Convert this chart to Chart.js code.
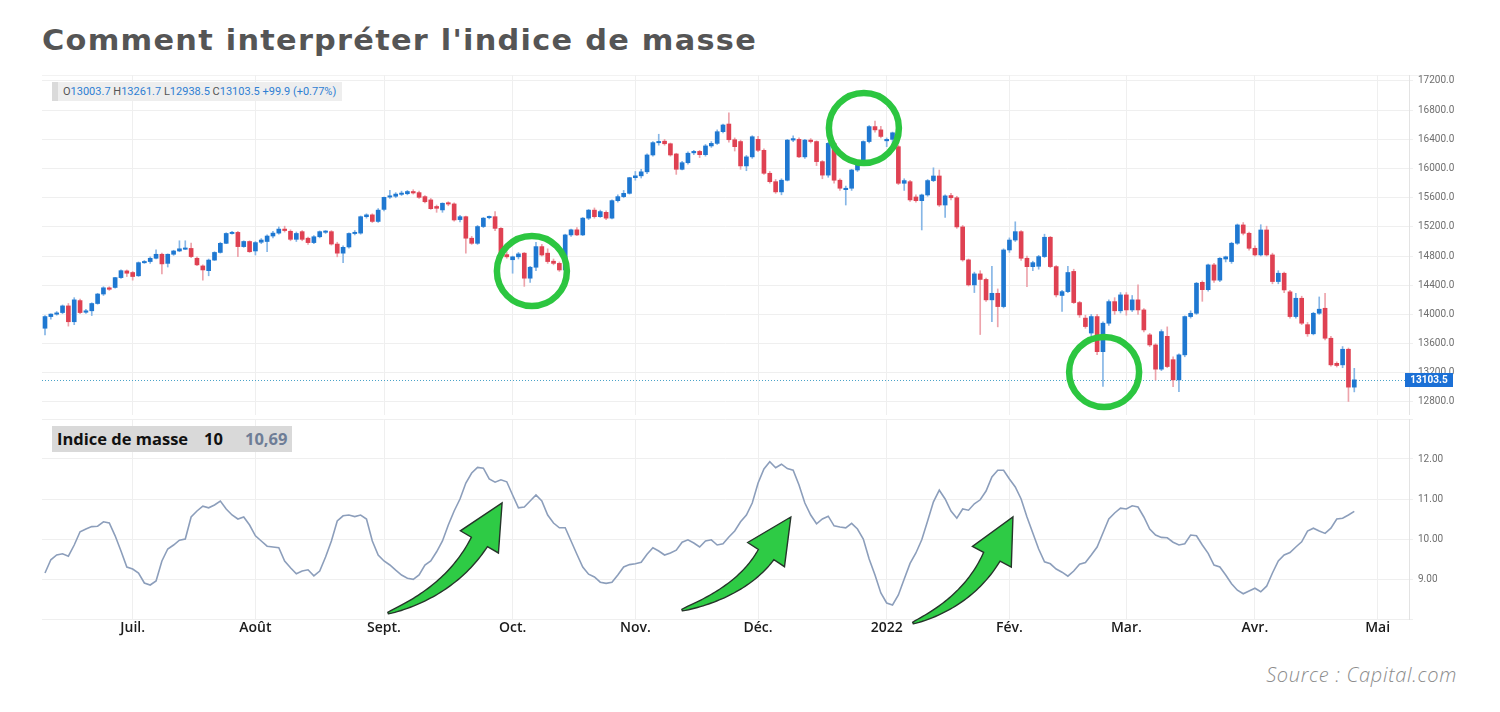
<!DOCTYPE html>
<html><head><meta charset="utf-8">
<script src="https://cdn.jsdelivr.net/npm/chart.js@4.4.1/dist/chart.umd.min.js"></script>
<style>
html,body{margin:0;padding:0;background:#fff;}
body{width:1500px;height:712px;position:relative;overflow:hidden;font-family:"Open Sans",sans-serif;}
#title{position:absolute;left:42px;top:18px;font-family:"DejaVu Sans",sans-serif;font-size:29px;font-weight:700;color:#555555;white-space:nowrap;line-height:44px;letter-spacing:1.2px;transform-origin:0 50%;}
#frame{position:absolute;left:42px;top:75px;width:1413px;height:568px;border-top:1px solid #f2f2f2;background:#fff;}
canvas{position:absolute;left:0;}
#c1{top:75px;}
#c2{top:419px;}
#ohlc{position:absolute;left:52px;top:82px;height:19px;width:290px;background:#eeeeee;font-family:Roboto,sans-serif;font-size:11px;line-height:19px;color:#2f7fd3;white-space:nowrap;z-index:5;}
#ohlc .h{display:inline-block;width:6px;height:19px;background:#dadada;vertical-align:top;margin-right:5px;}
#ohlc .k{color:#555;}
#mi{position:absolute;left:52px;top:426px;height:26px;width:240px;background:#d9d9d9;font-family:"Open Sans",sans-serif;font-weight:700;font-size:16.5px;line-height:26px;color:#111;white-space:nowrap;z-index:5;}
#mi span{position:absolute;top:0;}
#src{position:absolute;right:43px;top:661px;font-family:"Open Sans",sans-serif;font-style:italic;font-weight:300;font-size:20px;letter-spacing:0.7px;color:#8c8c8c;white-space:nowrap;}
</style></head>
<body>
<div id="title"><span id="tt">Comment interpréter l'indice de masse</span></div>
<div id="frame"></div>
<canvas id="c1" width="1460" height="340"></canvas>
<canvas id="c2" width="1460" height="226"></canvas>
<div id="ohlc"></div>
<div id="mi"></div>
<div id="src">Source : Capital.com</div>
<script>
// ---------- DATA ----------
const monthLabels = ["Juil.","Août","Sept.","Oct.","Nov.","Déc.","2022","Fév.","Mar.","Avr.","Mai"];
const monthStarts = [15,36,58,80,101,122,144,165,185,207,228];
const priceTicks = [12800,13200,13600,14000,14400,14800,15200,15600,16000,16400,16800,17200];
const massTicks = [8,9,10,11,12,13];
const massPeriod = 10;

const opens = [13811,13971,14005,14026,14117,13900,14190,14030,14050,14150,14280,14365,14370,14505,14597,14575,14530,14710,14725,14770,
14825,14700,14825,14870,14900,14905,14770,14665,14600,14745,14850,14975,15110,15125,14930,15000,14870,14990,15000,15075,
15115,15170,15140,15030,15135,15045,14985,15065,15130,15135,14965,14840,14925,15110,15115,15340,15365,15275,15440,15610,
15620,15650,15655,15685,15670,15615,15570,15480,15433,15530,15515,15300,15340,15045,14975,15205,15330,15340,15180,14820,
14750,14790,14840,14497,14647,14930,14840,14730,14700,14610,15090,15160,15090,15320,15430,15340,15400,15320,15560,15615,
15660,15875,15900,15955,16186,16355,16375,16340,16200,15990,16080,16215,16235,16190,16310,16345,16505,16610,16395,16370,
16036,16160,16400,16250,15935,15820,15680,15840,16390,16400,16160,16390,16370,16095,15910,16345,15840,15710,15730,15980,
16070,16370,16575,16530,16380,16400,16300,15798,15820,15610,15560,15638,15835,15898,15500,15630,15600,15200,14748,14405,
14556,14480,14200,14290,14108,14884,15020,15135,14770,14655,14660,14793,15058,14656,14260,14313,14590,14163,13950,13745,
13971,13490,13880,14176,14050,14268,14062,14200,14062,13720,13582,13250,13700,13380,13103,13446,13971,14016,14440,14340,
14679,14470,14760,14725,14976,15227,15113,14907,14816,15158,14816,14451,14565,14310,13971,14222,13860,13735,14016,14085,
13674,13330,13309,13523,13003.7];
const highs = [13985,14010,14040,14130,14150,14230,14210,14070,14160,14290,14380,14380,14510,14610,14610,14590,14720,14740,14790,14885,
14840,14830,14880,15010,15010,14980,14790,14680,14760,14860,14990,15120,15140,15140,15010,15010,15000,15040,15090,15140,
15200,15210,15160,15130,15150,15060,15080,15145,15150,15150,14990,14940,15120,15150,15350,15380,15380,15450,15610,15700,
15670,15690,15700,15710,15690,15630,15590,15500,15530,15545,15530,15360,15350,15070,15220,15330,15350,15410,15190,14860,
14800,14850,14850,14660,14990,14960,14900,14760,14720,15100,15170,15190,15330,15440,15460,15430,15420,15570,15640,15700,
15880,15960,15990,16200,16370,16470,16400,16350,16210,16100,16230,16250,16250,16330,16370,16530,16610,16765,16420,16390,
16180,16450,16440,16270,15960,15850,15860,16400,16450,16420,16400,16410,16380,16110,16360,16380,15860,15760,15990,16090,
16380,16590,16650,16580,16420,16500,16320,15860,15840,15640,15650,15850,16010,15980,15640,15660,15620,15220,14760,14580,
14600,14500,14660,14350,14900,15050,15270,15150,14800,14730,14810,15100,15070,14670,14330,14660,14620,14180,13990,14000,
14000,13900,14200,14230,14300,14300,14260,14405,14080,13740,13600,13790,13830,13420,13460,13980,14050,14440,14460,14690,
14700,14780,14800,14990,15240,15260,15130,14940,15230,15210,14840,14600,14580,14330,14290,14250,13890,14030,14240,14290,
13700,13350,13560,13540,13261.7];
const lows = [13720,13935,13990,14010,13840,13860,14010,14015,13985,14140,14260,14330,14360,14495,14520,14470,14520,14700,14700,14760,
14556,14650,14810,14860,14890,14780,14670,14470,14530,14740,14840,14970,15100,14793,14920,14850,14815,14970,14860,15050,
15100,15130,15010,15000,15010,14960,14970,15050,15110,14950,14790,14710,14910,15090,15100,15320,15260,15260,15420,15590,
15600,15630,15640,15650,15590,15530,15440,15400,15400,15490,15280,15270,14840,14960,14960,15190,15310,15150,14820,14770,
14565,14760,14385,14440,14600,14800,14700,14680,14590,14600,15070,15080,15080,15300,15320,15330,15300,15310,15540,15600,
15650,15840,15870,15930,16170,16320,16320,16170,15920,15980,16060,16190,16150,16170,16290,16330,16490,16360,16240,15990,
15970,16140,16230,15920,15800,15660,15640,15830,16370,16150,16140,16350,16040,15860,15880,15800,15700,15500,15700,15960,
16050,16350,16500,16420,16300,16330,15780,15700,15550,15540,15158,15620,15820,15480,15330,15570,15180,14730,14390,14300,
13725,14180,13900,13830,14090,14850,15000,14740,14380,14600,14620,14780,14640,14240,14040,14300,14150,13960,13810,13700,
13450,13012,13850,14000,14020,13990,14040,14000,13760,13560,13100,13230,13270,13010,12940,13420,13950,14000,14180,14320,
14440,14450,14720,14700,14960,15090,14880,14800,14800,14800,14420,14420,14300,13950,13950,13860,13700,13720,14000,13650,
13290,13280,13270,12807,12938.5];
const closes = [13971,14005,14020,14117,13900,14200,14026,14050,14150,14280,14365,14345,14505,14600,14565,14520,14710,14725,14770,14825,
14693,14825,14870,14900,14905,14793,14680,14610,14745,14850,14975,15110,15125,14930,15000,14860,14985,15020,15075,15115,
15170,15150,15030,15110,15030,14985,15065,15135,15140,14965,14840,14920,15110,15125,15340,15365,15275,15430,15605,15625,
15650,15660,15685,15665,15605,15545,15450,15455,15524,15515,15295,15340,15045,14975,15205,15320,15340,15180,14840,14790,
14790,14830,14497,14647,14930,14815,14725,14700,14610,15090,15160,15090,15320,15430,15340,15410,15320,15560,15615,15660,
15875,15900,15955,16186,16355,16370,16340,16186,15990,16080,16210,16235,16190,16310,16345,16505,16597,16395,16300,16036,
16160,16436,16250,15935,15820,15680,15840,16390,16410,16160,16390,16370,16095,15910,16345,15840,15730,15730,15980,16070,
16370,16575,16530,16440,16400,16490,15798,15835,15570,15560,15638,15835,15898,15500,15625,15600,15200,14748,14405,14556,
14480,14200,14290,14108,14884,15020,15135,14770,14655,14710,14793,15058,14656,14268,14313,14575,14163,13994,13834,13971,
13490,13880,14176,14050,14268,14062,14200,14062,13788,13582,13250,13765,13286,13103,13446,13971,14016,14428,14340,14679,
14470,14770,14790,14976,15227,15113,14907,14816,15158,14816,14451,14565,14336,13971,14222,13880,13735,14016,14072,13674,
13309,13300,13523,13003.6,13103.5];
const massIndex = [9.15,9.48,9.6,9.63,9.57,9.85,10.18,10.25,10.31,10.32,10.43,10.4,10.08,9.7,9.3,9.25,9.15,8.9,8.85,8.95,
9.45,9.75,9.85,9.97,10.0,10.55,10.7,10.82,10.78,10.85,10.95,10.75,10.6,10.5,10.55,10.35,10.08,9.95,9.82,9.8,
9.78,9.45,9.28,9.13,9.2,9.23,9.08,9.2,9.55,9.95,10.45,10.58,10.6,10.56,10.6,10.5,9.95,9.6,9.45,9.35,
9.22,9.1,9.02,8.99,9.1,9.35,9.45,9.68,9.95,10.35,10.7,11.0,11.4,11.65,11.79,11.77,11.5,11.42,11.48,11.43,
11.1,10.78,10.8,10.95,11.1,10.95,10.6,10.4,10.28,10.28,9.95,9.62,9.3,9.12,9.05,8.92,8.89,8.92,9.1,9.3,
9.36,9.38,9.42,9.62,9.78,9.7,9.6,9.65,9.72,9.92,9.98,9.9,9.8,9.95,9.98,9.85,9.88,10.05,10.2,10.43,
10.6,10.9,11.4,11.75,11.93,11.78,11.87,11.76,11.72,11.35,10.9,10.6,10.38,10.5,10.57,10.33,10.3,10.28,10.39,10.25,
10.0,9.5,9.1,8.65,8.4,8.35,8.6,9.0,9.39,9.65,9.98,10.45,10.93,11.22,11.0,10.7,10.52,10.75,10.72,10.88,
10.98,11.2,11.55,11.72,11.72,11.5,11.3,11.0,10.55,10.15,9.75,9.43,9.38,9.25,9.17,9.07,9.2,9.37,9.41,9.6,
9.8,10.15,10.5,10.65,10.77,10.75,10.83,10.8,10.55,10.25,10.1,10.04,10.03,9.92,9.85,9.88,10.1,10.08,9.85,9.64,
9.35,9.3,9.1,8.88,8.72,8.63,8.7,8.77,8.68,8.82,9.15,9.45,9.6,9.66,9.8,9.93,10.2,10.27,10.2,10.14,
10.27,10.5,10.52,10.6,10.69];

// annotation anchors in data units (bar index, value)
const circleMarks = [{i:83.3, v:14596}, {i:140.1, v:16556}, {i:181.2, v:13211}];
const arrowMarks = [{from:[58.7,8.15], to:[78.2,10.9]}, {from:[109,8.225], to:[127.6,10.55]}, {from:[148.5,7.9], to:[165.6,10.55]}];

// ---------- STYLE ----------
const UP='#1f78d1', DOWN='#df4152', UPW='#86b6e6', DOWNW='#eda3ab';
const GREEN='#2cc640';
const X_MIN=-0.513, X_MAX=233.36;

// ---------- texts ----------
(function(){
  const title=document.getElementById('title');
  const w=document.getElementById('tt').getBoundingClientRect().width;
  title.style.transform='scaleX('+(715/w).toFixed(4)+')';
  const n=closes.length;
  const ch=closes[n-1]-closes[n-2];
  const pct=ch/closes[n-2]*100;
  const sg=ch>=0?'+':'';
  document.getElementById('ohlc').innerHTML='<span class="h"></span><span class="k">O</span>'+opens[n-1].toFixed(1)+
   ' <span class="k">H</span>'+highs[n-1].toFixed(1)+' <span class="k">L</span>'+lows[n-1].toFixed(1)+
   ' <span class="k">C</span>'+closes[n-1].toFixed(1)+' '+sg+ch.toFixed(1)+' ('+sg+pct.toFixed(2)+'%)';
  const mi=document.getElementById('mi');
  mi.innerHTML='<span style="left:5px">Indice de masse</span><span style="left:152px">'+massPeriod+
   '</span><span style="left:193px;color:#6e7d96">'+massIndex[massIndex.length-1].toFixed(2).replace('.',',')+'</span>';
})();

// ---------- helpers ----------
function fixedY(width){return function(s){s.width=width;s.paddingTop=0;s.paddingBottom=0;};}
function monthTicks(s){s.ticks=monthStarts.map(v=>({value:v}));}
const idx=closes.map((_,i)=>i);
const isUp=idx.map(i=>closes[i]>=opens[i]);
const bodyData=idx.map(i=>{let a=Math.min(opens[i],closes[i]),b=Math.max(opens[i],closes[i]);if(b-a<18){const m=(a+b)/2;a=m-9;b=m+9;}return {x:i,y:[a,b]};});
const wickData=idx.map(i=>({x:i,y:[lows[i],highs[i]]}));

// ---------- top chart (candles) ----------
const topPlugin={id:'topAnn',
  beforeDatasetsDraw(ch){
    const {ctx,chartArea:a,scales:{x,y}}=ch;
    const py=Math.round(y.getPixelForValue(closes[closes.length-1]))+0.5;
    ctx.save();ctx.strokeStyle='#4aa3c8';ctx.lineWidth=1;ctx.setLineDash([1,2]);
    ctx.beginPath();ctx.moveTo(a.left,py);ctx.lineTo(a.right,py);ctx.stroke();ctx.restore();
  },
  afterDatasetsDraw(ch){
    const {ctx,scales:{x,y}}=ch;
    ctx.save();ctx.strokeStyle=GREEN;ctx.lineWidth=6.5;
    circleMarks.forEach(c=>{ctx.beginPath();ctx.arc(x.getPixelForValue(c.i),y.getPixelForValue(c.v),35,0,Math.PI*2);ctx.stroke();});
    ctx.restore();
  },
  afterDraw(ch){
    const {ctx,chartArea:a,scales:{y}}=ch;
    const last=closes[closes.length-1];
    const py=y.getPixelForValue(last);
    ctx.save();ctx.fillStyle='#1b70d6';ctx.fillRect(a.right-4,Math.round(py)-7,48,14);
    ctx.fillStyle='#fff';ctx.font='bold 10px Roboto';ctx.textAlign='center';ctx.textBaseline='middle';
    ctx.fillText(last.toFixed(1),a.right+20,Math.round(py)+0.5);ctx.restore();
  }
};
new Chart(document.getElementById('c1'),{
  type:'bar',
  data:{datasets:[
    {data:wickData,barThickness:1,backgroundColor:idx.map(i=>isUp[i]?UPW:DOWNW),grouped:false,order:2},
    {data:bodyData,barThickness:4,backgroundColor:idx.map(i=>isUp[i]?UP:DOWN),grouped:false,order:1}
  ]},
  options:{responsive:false,animation:false,events:[],
    layout:{padding:{left:42,right:0,top:0,bottom:0}},
    plugins:{legend:{display:false},tooltip:{enabled:false}},
    scales:{
      x:{type:'linear',offset:false,min:X_MIN,max:X_MAX,afterBuildTicks:monthTicks,
         ticks:{display:false},grid:{color:'#efefef',drawTicks:false,offset:false},border:{display:false},
         afterFit(s){s.height=0;s.paddingLeft=0;s.paddingRight=0;}},
      y:{position:'right',min:12621.8,max:17282.2,afterBuildTicks(s){s.ticks=priceTicks.map(v=>({value:v}));},
         afterFit:fixedY(51),
         ticks:{callback:v=>Number(v).toFixed(1),color:'#6f6f6f',font:{family:'Roboto',size:10},padding:5},
         grid:{color:'#efefef',tickLength:4},border:{color:'#e3e3e3'}}
    }
  },
  plugins:[topPlugin]
});

// ---------- bottom chart (mass index) ----------
function drawArrow(ctx,T,P){
  const dx=P.x-T.x, dy=T.y-P.y;
  const C={x:T.x+0.55*dx,y:T.y-0.2*dy};
  let ux=P.x-C.x,uy=P.y-C.y;const L=Math.hypot(ux,uy);ux/=L;uy/=L;
  const headLen=45,headHalf=22;
  const B={x:P.x-ux*headLen,y:P.y-uy*headLen};
  const left=[],right=[];const n=40;
  for(let k=0;k<=n;k++){
    const t=k/n;
    const px=(1-t)*(1-t)*T.x+2*(1-t)*t*C.x+t*t*B.x;
    const py=(1-t)*(1-t)*T.y+2*(1-t)*t*C.y+t*t*B.y;
    const tx=2*(1-t)*(C.x-T.x)+2*t*(B.x-C.x), ty=2*(1-t)*(C.y-T.y)+2*t*(B.y-C.y);
    const tl=Math.hypot(tx,ty);const nx=-ty/tl,ny=tx/tl;
    const w=0.8+8.5*Math.pow(t,0.75);
    left.push([px+nx*w,py+ny*w]);right.push([px-nx*w,py-ny*w]);
  }
  const nx=-uy,ny=ux;
  ctx.beginPath();ctx.moveTo(left[0][0],left[0][1]);
  left.forEach(p=>ctx.lineTo(p[0],p[1]));
  ctx.lineTo(B.x+nx*headHalf,B.y+ny*headHalf);ctx.lineTo(P.x,P.y);ctx.lineTo(B.x-nx*headHalf,B.y-ny*headHalf);
  for(let k=right.length-1;k>=0;k--)ctx.lineTo(right[k][0],right[k][1]);
  ctx.closePath();
  ctx.fillStyle='#2ecb45';ctx.fill();
  ctx.lineJoin='miter';ctx.strokeStyle='#26352a';ctx.lineWidth=1.4;ctx.stroke();
}
const botPlugin={id:'botAnn',
  afterDraw(ch){
    const {ctx,scales:{x,y}}=ch;
    ctx.save();
    arrowMarks.forEach(a=>{
      drawArrow(ctx,{x:x.getPixelForValue(a.from[0]),y:y.getPixelForValue(a.from[1])},
                    {x:x.getPixelForValue(a.to[0]),y:y.getPixelForValue(a.to[1])});
    });
    ctx.restore();
  }
};
new Chart(document.getElementById('c2'),{
  type:'line',
  data:{datasets:[{data:idx.map(i=>({x:i,y:massIndex[i]})),borderColor:'#8c9ebb',borderWidth:1.6,pointRadius:0,tension:0,fill:false}]},
  options:{responsive:false,animation:false,events:[],
    layout:{padding:{left:42,right:0,top:0,bottom:0}},
    plugins:{legend:{display:false},tooltip:{enabled:false}},
    scales:{
      x:{type:'linear',offset:false,min:X_MIN,max:X_MAX,afterBuildTicks:monthTicks,
         afterFit(s){s.height=26;s.paddingLeft=0;s.paddingRight=0;},
         ticks:{autoSkip:false,maxRotation:0,padding:1,color:'#1b1b1b',font:{family:'Open Sans',size:14,weight:'600'},
           callback:v=>{const k=monthStarts.indexOf(v);return k>=0?monthLabels[k]:'';}},
         grid:{color:'#efefef',drawTicks:false},border:{color:'#efefef'}},
      y:{position:'right',min:8,max:13,afterBuildTicks(s){s.ticks=massTicks.map(v=>({value:v}));},
         afterFit:fixedY(51),
         ticks:{callback:v=>(v>8&&v<13)?Number(v).toFixed(2):'',color:'#6f6f6f',font:{family:'Roboto',size:10},padding:5},
         grid:{color:'#efefef',tickLength:4},border:{color:'#e3e3e3'}}
    }
  },
  plugins:[botPlugin]
});
</script>
</body></html>
